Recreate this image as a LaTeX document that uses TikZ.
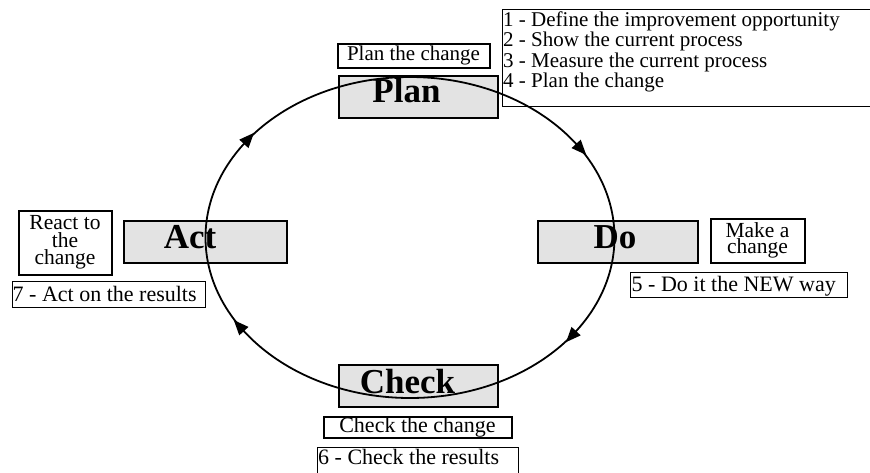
\documentclass[tikz,border=0pt]{standalone}
\usepackage{fontspec}
\setmainfont{Liberation Serif}
\usetikzlibrary{arrows.meta,decorations.markings}
\definecolor{phasegray}{HTML}{E3E3E3}
\begin{document}
\begin{tikzpicture}[x=1pt,y=1pt,
  phase/.style={draw, line width=2pt, fill=phasegray, inner sep=0pt, minimum height=42pt},
  phaselbl/.style={font=\fontsize{35}{35}\selectfont\bfseries, inner sep=0pt, anchor=base},
  note/.style={draw, line width=2pt, fill=white, inner sep=0pt, align=center},
  stepbox/.style={draw, line width=1pt, fill=white, inner sep=0pt},
  steptxt/.style={anchor=base west, inner sep=0pt, font=\fontsize{22}{22}\selectfont},
  cyctip/.tip={Triangle[reversed, length=15pt, width=12pt]},
  cyc/.style={line width=1.8pt, postaction={decorate}, decoration={markings,
     mark=at position 0.09 with {\arrow{cyctip}},
     mark=at position 0.41 with {\arrow{cyctip}},
     mark=at position 0.59 with {\arrow{cyctip}},
     mark=at position 0.91 with {\arrow{cyctip}}}}
]
\useasboundingbox (0,0) rectangle (870,-472);
% phase boxes
\node[phase, minimum width=159pt] (plan) at (418,-96.5) {};
\node[phaselbl] (planlbl) at (406.5,-102) {Plan};
\node[phase, minimum width=163pt] (act) at (205,-241.5) {};
\node[phaselbl] (actlbl) at (190,-248) {Act};
\node[phase, minimum width=160pt] (do) at (617.5,-241.5) {};
\node[phaselbl] (dolbl) at (615,-248) {Do};
\node[phase, minimum width=159pt] (check) at (418,-385.5) {};
\node[phaselbl] (checklbl) at (407.5,-393) {Check};
% notes
\node[note, minimum width=152pt, minimum height=24pt, font=\fontsize{21}{21}\selectfont] (planchg) at (413.5,-55.5) {Plan the change};
\node[stepbox, anchor=north west, minimum width=380pt, minimum height=97pt] (steps) at (502,-9) {};
\node[anchor=north west, align=left, inner sep=0pt, font=\fontsize{21}{20.5}\selectfont] (stepstxt) at (503,-11.5) {1 - Define the improvement opportunity\\2 - Show the current process\\3 - Measure the current process\\4 - Plan the change};
\node[note, minimum width=94pt, minimum height=44pt, font=\fontsize{21.5}{16}\selectfont] (make) at (757.5,-240.5) {Make a\\change};
\node[stepbox, minimum width=217pt, minimum height=25pt] (doit) at (738.5,-284.5) {};
\node[steptxt] (doittxt) at (631.5,-291.5) {5 - Do it the NEW way};
\node[note, minimum width=93pt, minimum height=64pt, font=\fontsize{21.5}{17.5}\selectfont] (react) at (65,-242.5) {React to\\the\\change};
\node[stepbox, minimum width=193pt, minimum height=26pt] (actres) at (108.5,-294) {};
\node[steptxt] (actrestxt) at (12.5,-301) {7 - Act on the results};
\node[note, minimum width=188pt, minimum height=21pt, font=\fontsize{22}{22}\selectfont] (checkchg) at (417.5,-427) {Check the change};
\node[stepbox, anchor=north west, minimum width=201pt, minimum height=40pt] (checkres) at (317,-447) {};
\node[steptxt] (checkrestxt) at (318,-464) {6 - Check the results};
% cycle
\coordinate (cc) at (410,-237.5);
\draw[cyc] (cc) ellipse [x radius=204.5pt, y radius=160.5pt];
\end{tikzpicture}
\end{document}
